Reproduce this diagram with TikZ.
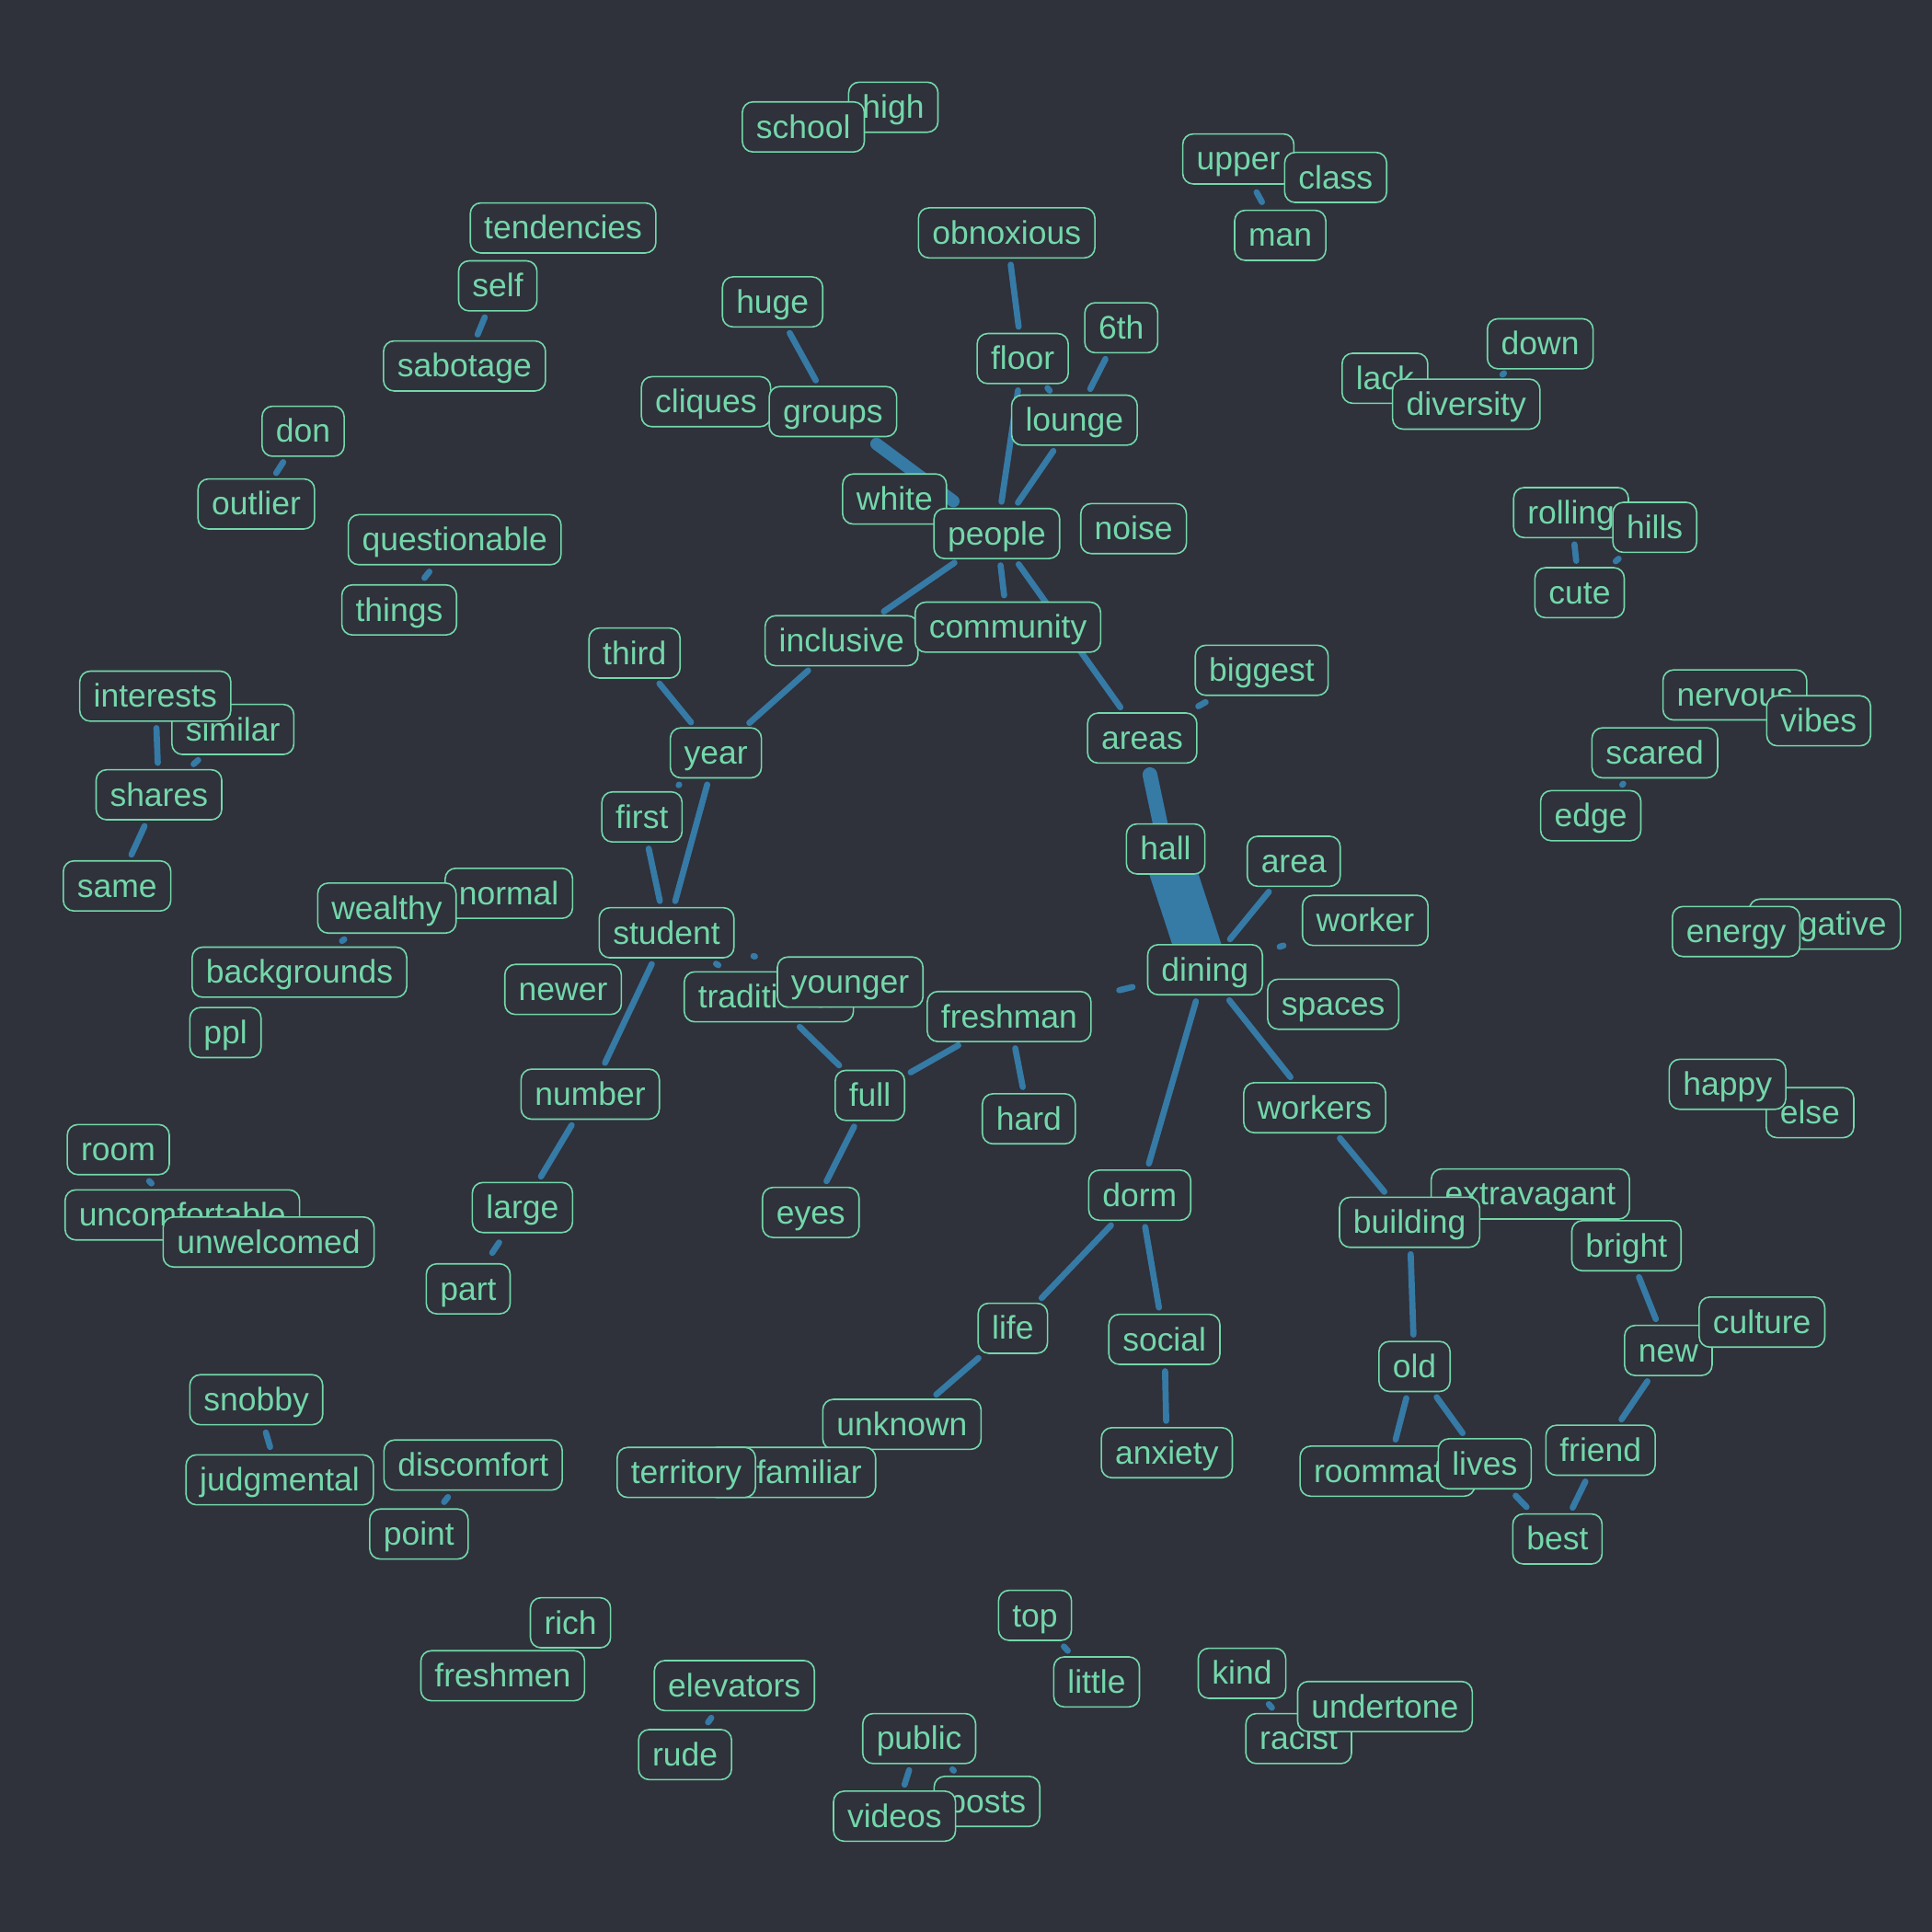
\documentclass[tikz,border=0pt]{standalone}
\usepackage{fontspec}
\setmainfont{Liberation Sans}
\newcommand\wfont{\fontsize{26.5pt}{30pt}\selectfont}
\definecolor{bgc}{RGB}{47,49,59}
\definecolor{boxc}{RGB}{115,215,170}
\definecolor{edgec}{RGB}{54,122,166}
\pgfdeclarelayer{bglayer}
\pgfdeclarelayer{edgelayer}
\pgfsetlayers{bglayer,edgelayer,main}
\tikzset{
  w/.style={draw=boxc, line width=1.2pt, rounded corners=8.5pt, fill=bgc, text=boxc, font=\wfont,
    inner xsep=11.2pt, inner ysep=5pt, text height=24.4pt, text depth=6.2pt},
  edge/.style={draw=edgec, line width=5pt, line cap=round, shorten <=5pt, shorten >=5pt},
}
\begin{document}
\begin{tikzpicture}[x=1pt,y=-1pt]
\begin{pgfonlayer}{bglayer}
\fill[bgc] (0,0) rectangle (1568,1568);
\end{pgfonlayer}
\useasboundingbox (0,0) rectangle (1568,1568);
\begin{scope}[yshift=-1pt]
% ---------- NODES ----------
\node[w] (high) at (725,86) {high};
\node[w] (school) at (652,102) {school};
\node[w] (upper) at (1005,128) {upper};
\node[w] (class) at (1084,143) {class};
\node[w] (man) at (1039,190) {man};
\node[w] (tendencies) at (457,184) {tendencies};
\node[w] (self) at (404,231) {self};
\node[w] (sabotage) at (377,296) {sabotage};
\node[w] (obnoxious) at (817,188) {obnoxious};
\node[w] (huge) at (627,244) {huge};
\node[w] (sixth) at (910,265) {6th};
\node[w] (floor) at (830,290) {floor};
\node[w] (lounge) at (872,340) {lounge};
\node[w] (cliques) at (573,325) {cliques};
\node[w] (groups) at (676,333) {groups};
\node[w] (down) at (1250,278) {down};
\node[w] (lack) at (1124,306) {lack};
\node[w] (diversity) at (1190,327) {diversity};
\node[w] (don) at (246,349) {don};
\node[w] (outlier) at (208,408) {outlier};
\node[w] (white) at (726,404) {white};
\node[w] (people) at (809,432) {people};
\node[w] (noise) at (920,428) {noise};
\node[w] (rolling) at (1275,415) {rolling};
\node[w] (hills) at (1343,427) {hills};
\node[w] (cute) at (1282,480) {cute};
\node[w] (questionable) at (369,437) {questionable};
\node[w] (things) at (324,494) {things};
\node[w] (inclusive) at (683,519) {inclusive};
\node[w] (community) at (818,508) {community};
\node[w] (third) at (515,529) {third};
\node[w] (year) at (581,610) {year};
\node[w] (biggest) at (1024,543) {biggest};
\node[w] (areas) at (927,598) {areas};
\node[w] (similar) at (189,591) {similar};
\node[w] (interests) at (126,564) {interests};
\node[w] (shares) at (129,644) {shares};
\node[w] (nervous) at (1408,563) {nervous};
\node[w] (vibes) at (1476,584) {vibes};
\node[w] (scared) at (1343,610) {scared};
\node[w] (edge) at (1291,661) {edge};
\node[w] (first) at (521,662) {first};
\node[w] (hall) at (946,688) {hall};
\node[w] (area) at (1050,698) {area};
\node[w] (same) at (95,718) {same};
\node[w] (normal) at (413,724) {normal};
\node[w] (wealthy) at (314,736) {wealthy};
\node[w] (worker) at (1108,746) {worker};
\node[w] (negative) at (1481,749) {negative};
\node[w] (energy) at (1409,755) {energy};
\node[w] (student) at (541,756) {student};
\node[w] (dining) at (978,786) {dining};
\node[w] (backgrounds) at (243,788) {backgrounds};
\node[w] (newer) at (457,802) {newer};
\node[w] (traditional) at (624,808) {traditional};
\node[w] (younger) at (690,796) {younger};
\node[w] (spaces) at (1082,814) {spaces};
\node[w] (freshman) at (819,824) {freshman};
\node[w] (ppl) at (183,837) {ppl};
\node[w] (full) at (706,888) {full};
\node[w] (hard) at (835,907) {hard};
\node[w] (number) at (479,887) {number};
\node[w] (workers) at (1067,898) {workers};
\node[w] (else) at (1469,902) {else};
\node[w] (happy) at (1402,879) {happy};
\node[w] (room) at (96,932) {room};
\node[w] (uncomfortable) at (148,985) {uncomfortable};
\node[w] (unwelcomed) at (218,1007) {unwelcomed};
\node[w] (dorm) at (925,969) {dorm};
\node[w] (extravagant) at (1242,968) {extravagant};
\node[w] (building) at (1144,991) {building};
\node[w] (large) at (424,979) {large};
\node[w] (eyes) at (658,983) {eyes};
\node[w] (bright) at (1320,1010) {bright};
\node[w] (part) at (380,1045) {part};
\node[w] (new) at (1354,1095) {new};
\node[w] (culture) at (1430,1072) {culture};
\node[w] (life) at (822,1077) {life};
\node[w] (social) at (945,1086) {social};
\node[w] (old) at (1148,1108) {old};
\node[w] (snobby) at (208,1135) {snobby};
\node[w] (unknown) at (732,1155) {unknown};
\node[w] (anxiety) at (947,1178) {anxiety};
\node[w] (friend) at (1299,1176) {friend};
\node[w] (discomfort) at (384,1188) {discomfort};
\node[w] (judgmental) at (227,1200) {judgmental};
\node[w] (unfamiliar) at (642,1194) {unfamiliar};
\node[w] (territory) at (557,1194) {territory};
\node[w] (roommate) at (1126,1193) {roommate};
\node[w] (lives) at (1205,1187) {lives};
\node[w] (best) at (1264,1248) {best};
\node[w] (point) at (340,1244) {point};
\node[w] (top) at (840,1310) {top};
\node[w] (rich) at (463,1316) {rich};
\node[w] (freshmen) at (408,1359) {freshmen};
\node[w] (little) at (890,1364) {little};
\node[w] (kind) at (1008,1357) {kind};
\node[w] (racist) at (1054,1410) {racist};
\node[w] (undertone) at (1124,1384) {undertone};
\node[w] (elevators) at (596,1367) {elevators};
\node[w] (rude) at (556,1423) {rude};
\node[w] (public) at (746,1410) {public};
\node[w] (posts) at (801,1461) {posts};
\node[w] (videos) at (726,1473) {videos};
\end{scope}

% ---------- EDGES ----------
\begin{pgfonlayer}{edgelayer}
\draw[edge] (obnoxious) -- (floor);
\draw[edge] (huge) -- (groups);
\draw[edge] (sixth) -- (lounge);
\draw[edge, shorten <=4pt, shorten >=4pt] (floor) -- (lounge);
\draw[edge] (floor) -- (people);
\draw[edge] (lounge) -- (people);
\draw[edge, line width=10pt, shorten <=9pt, shorten >=9pt] (groups) -- (people);
\draw[edge] (people) -- (inclusive);
\draw[edge] (people) -- (community);
\draw[edge] (people) -- (areas);
\draw[edge] (inclusive) -- (year);
\draw[edge] (third) -- (year);
\draw[edge, shorten <=7.5pt, shorten >=7.5pt] (first) -- (year);
\draw[edge] (year) -- (student);
\draw[edge] (first) -- (student);
\draw[edge] (student) -- (number);
\draw[edge, shorten <=8pt, shorten >=9pt] (student) -- (traditional);
\draw[edge, shorten <=17pt, shorten >=19.5pt] (student) -- (younger);
\draw[edge] (traditional) -- (full);
\draw[edge] (full) -- (freshman);
\draw[edge] (freshman) -- (hard);
\draw[edge] (full) -- (eyes);
\draw[edge] (number) -- (large);
\draw[edge, shorten <=9pt, shorten >=10pt] (large) -- (part);
\draw[edge, shorten <=10pt, shorten >=10pt] (biggest) -- (areas);
\draw[edge, line width=12pt, shorten <=9pt, shorten >=0pt] (areas) -- (hall);
\draw[draw=edgec, line width=38pt, line cap=butt, shorten <=-8pt, shorten >=-8pt] (hall) -- (dining);
\draw[edge] (dining) -- (area);
\draw[edge, shorten <=14pt, shorten >=15.5pt] (dining) -- (worker);
\draw[edge, shorten <=12pt, shorten >=23pt] (dining) -- (freshman);
\draw[edge] (dining) -- (workers);
\draw[edge] (dining) -- (dorm);
\draw[edge] (workers) -- (building);
\draw[edge] (dorm) -- (life);
\draw[edge] (dorm) -- (social);
\draw[edge] (social) -- (anxiety);
\draw[edge] (life) -- (unknown);
\draw[edge] (building) -- (old);
\draw[edge] (old) -- (roommate);
\draw[edge] (old) -- (lives);
\draw[edge, shorten <=7pt, shorten >=7pt] (lives) -- (best);
\draw[edge] (best) -- (friend);
\draw[edge] (friend) -- (new);
\draw[edge] (new) -- (bright);
\draw[edge, shorten <=7pt, shorten >=7pt] (upper) -- (man);
\draw[edge, shorten <=6.5pt, shorten >=6.5pt] (down) -- (diversity);
\draw[edge] (rolling) -- (cute);
\draw[edge, shorten <=7pt, shorten >=7pt] (hills) -- (cute);
\draw[edge, shorten <=6pt, shorten >=6pt] (scared) -- (edge);
\draw[edge] (interests) -- (shares);
\draw[edge, shorten <=6pt, shorten >=6pt] (similar) -- (shares);
\draw[edge] (shares) -- (same);
\draw[edge, shorten <=7.5pt, shorten >=7.5pt] (wealthy) -- (backgrounds);
\draw[edge] (don) -- (outlier);
\draw[edge] (self) -- (sabotage);
\draw[edge, shorten <=6.5pt, shorten >=6.5pt] (questionable) -- (things);
\draw[edge, shorten <=6.5pt, shorten >=6.5pt] (room) -- (uncomfortable);
\draw[edge, shorten <=6pt, shorten >=6pt] (snobby) -- (judgmental);
\draw[edge, shorten <=6.5pt, shorten >=6.5pt] (discomfort) -- (point);
\draw[edge, shorten <=6.5pt, shorten >=6.5pt] (elevators) -- (rude);
\draw[edge, shorten <=6pt, shorten >=6pt] (top) -- (little);
\draw[edge, shorten <=5.5pt, shorten >=5.5pt] (kind) -- (racist);
\draw[edge] (public) -- (videos);
\draw[edge, shorten <=6pt, shorten >=6pt] (public) -- (posts);
\end{pgfonlayer}
\end{tikzpicture}
\end{document}
